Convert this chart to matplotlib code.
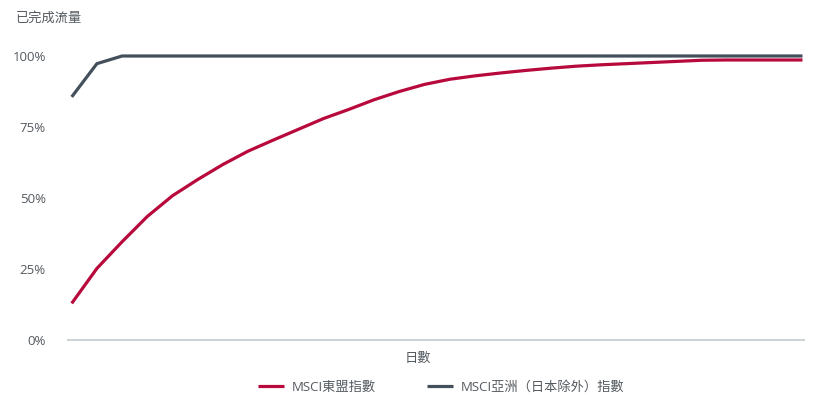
import matplotlib
matplotlib.use("Agg")
import matplotlib.pyplot as plt
from matplotlib.ticker import FuncFormatter

plt.rcParams["font.family"] = ["Open Sans", "Noto Sans CJK TC", "DejaVu Sans"]

TEXT = "#555b61"
RED = "#b8093c"
GREY = "#434f5a"

# data (cumulative % of volume completed per day)
days = list(range(1, 31))
asean = [12.9, 25.2, 34.6, 43.5, 50.8, 56.5, 61.8, 66.5, 70.4, 74.2,
         78.0, 81.2, 84.6, 87.5, 90.0, 91.8, 93.0, 94.0, 94.9, 95.7,
         96.4, 96.9, 97.3, 97.7, 98.1, 98.5, 98.6, 98.6, 98.6, 98.6]
asia_ex_japan = [85.6, 97.3] + [100.0] * 28
yticks = [0, 25, 50, 75, 100]
series_labels = ["MSCI東盟指數", "MSCI亞洲（日本除外）指數"]

fig = plt.figure(figsize=(8.2, 4.13), dpi=100)
W, H = 820, 413
ax = fig.add_axes([68 / W, (H - 340) / H, (804 - 68) / W, (340 - 41.8) / H])

ax.plot(days, asean, color=RED, lw=2.3, label=series_labels[0],
        solid_capstyle="butt", solid_joinstyle="round", clip_on=False)
ax.plot(days, asia_ex_japan, color=GREY, lw=2.3, label=series_labels[1],
        solid_capstyle="butt", clip_on=False)

ax.set_xlim(0.853, 30.06)
ax.set_ylim(0, 105)
ax.set_xticks([])
ax.set_yticks(yticks)
ax.yaxis.set_major_formatter(FuncFormatter(lambda v, p: f"{v:.0f}%"))
ax.tick_params(axis="y", length=0, pad=16, labelsize=9.5, labelcolor=TEXT)

for s in ["top", "right", "left"]:
    ax.spines[s].set_visible(False)
ax.spines["bottom"].set_color("#cfd3d8")
ax.spines["bottom"].set_linewidth(1.5)

fig.text(16 / W, 1 - 18 / H, "已完成流量", fontsize=9.5, color=TEXT,
         ha="left", va="center")
fig.text(418 / W, 1 - 358 / H, "日數", fontsize=9.5, color=TEXT,
         ha="center", va="center")

fig.legend(loc="center", bbox_to_anchor=(441 / W, 1 - 387 / H), ncol=2,
           frameon=False, fontsize=9.5, labelcolor=TEXT, handlelength=2.0,
           handletextpad=0.55, columnspacing=3.9)

fig.savefig("out.png", dpi=100)
